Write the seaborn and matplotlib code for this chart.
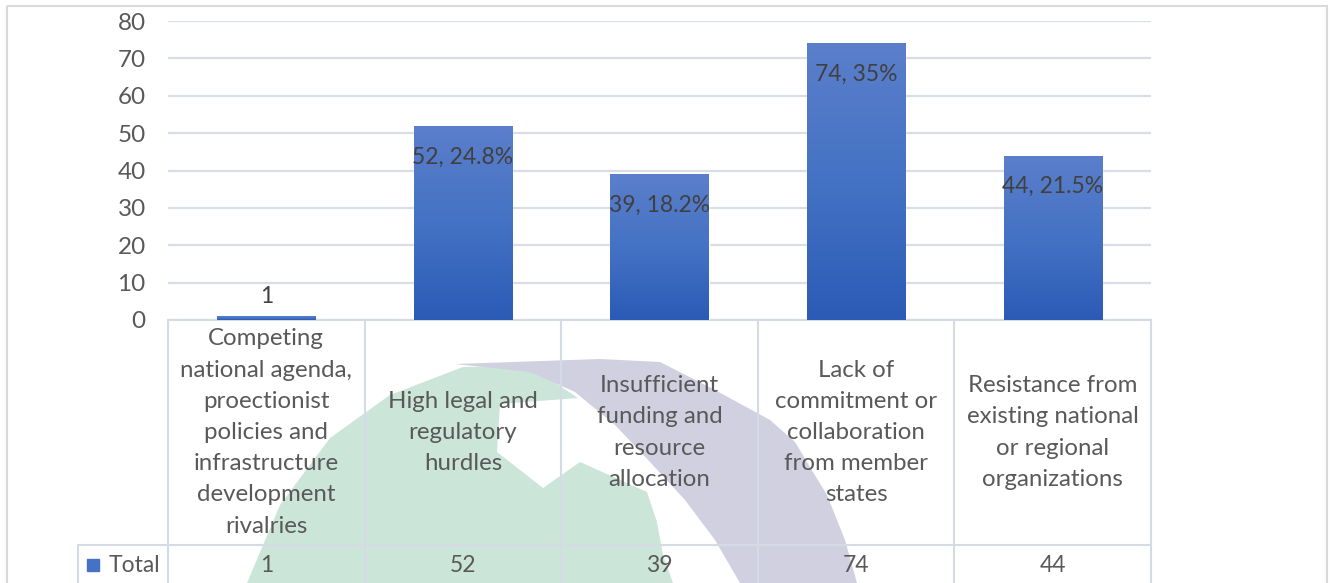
import numpy as np
import pandas as pd
import matplotlib.pyplot as plt
import seaborn as sns
from matplotlib.colors import LinearSegmentedColormap
from matplotlib.patches import Polygon, Rectangle
from matplotlib.transforms import blended_transform_factory, Affine2D

# ---- data ----
categories = [
    "Competing\nnational agenda,\nproectionist\npolicies and\ninfrastructure\ndevelopment\nrivalries",
    "High legal and\nregulatory\nhurdles",
    "Insufficient\nfunding and\nresource\nallocation",
    "Lack of\ncommitment or\ncollaboration\nfrom member\nstates",
    "Resistance from\nexisting national\nor regional\norganizations",
]
values = [1, 52, 39, 74, 44]
percents = [None, "24.8%", "18.2%", "35%", "21.5%"]
yticks = [0, 10, 20, 30, 40, 50, 60, 70, 80]
series_name = "Total"

W, H = 1333, 583
TEXT = "#595959"
LABEL = "#404040"
GRID = "#d9dee6"
LINE = "#d5dbe4"

sns.set_theme(style="white")
plt.rcParams["font.family"] = ["Lato", "DejaVu Sans"]

fig = plt.figure(figsize=(W / 100, H / 100), dpi=100)
fig.patch.set_facecolor("white")

# pixel coordinates (origin top-left) for decoration
px = Affine2D().scale(1 / W, -1 / H).translate(0, 1) + fig.transFigure

# faint logo watermark behind the data table
green = [(247, 583), (280, 505), (330, 438), (390, 395), (463, 367), (530, 366),
         (578, 398), (500, 404), (497, 452), (543, 488), (580, 462), (647, 492),
         (657, 522), (663, 555), (673, 583)]
purple = [(455, 364), (600, 359), (660, 362), (715, 390), (770, 420), (795, 442),
          (813, 472), (827, 495), (845, 540), (857, 583), (740, 583), (715, 540),
          (685, 500), (650, 462), (615, 425), (575, 392), (530, 372)]
fig.add_artist(Polygon(green, closed=True, transform=px, facecolor="#cce5d9",
                       edgecolor="none", zorder=-2))
fig.add_artist(Polygon(purple, closed=True, transform=px, facecolor="#d0d0e0",
                       edgecolor="none", zorder=-1))

# chart frame
fig.add_artist(Rectangle((7, 6), 1320, 600, transform=px, facecolor="none",
                         edgecolor="#d9d9d9", lw=1.5, zorder=-3))

ax = fig.add_axes([168 / W, (H - 320) / H, (1151 - 168) / W, 299 / H])
ax.patch.set_alpha(0)

df = pd.DataFrame({"category": categories, "value": values})
sns.barplot(data=df, x="category", y="value", color="#4472c4", width=0.5,
            saturation=1, ax=ax, zorder=2)

# Excel-like vertical gradient on bars
cmap = LinearSegmentedColormap.from_list("bar", ["#2b5bb6", "#4472c4", "#5b7fcb"])
grad = np.linspace(0, 1, 256).reshape(-1, 1)
for patch in ax.patches:
    x0, y0 = patch.get_x(), patch.get_y()
    w, h = patch.get_width(), patch.get_height()
    im = ax.imshow(grad, extent=[x0, x0 + w, y0, y0 + h], origin="lower",
                   aspect="auto", cmap=cmap, zorder=3)
    im.set_clip_path(patch)

ax.set_xlim(-0.5, len(categories) - 0.5)
ax.set_ylim(0, 80)
ax.set_yticks(yticks)
ax.set_xticks([])
ax.set_xlabel("")
ax.set_ylabel("")
ax.yaxis.grid(True, color=GRID, lw=1.6)
ax.set_axisbelow(True)
for s in ax.spines.values():
    s.set_visible(False)
ax.tick_params(axis="y", length=0, pad=16, labelsize=17.5, labelcolor=TEXT)

# data labels
for i, (v, p) in enumerate(zip(values, percents)):
    if p is None:
        ax.annotate(f"{v}", (i, v), xytext=(0, 14), textcoords="offset points",
                    ha="center", va="center", fontsize=16.5, color=LABEL, zorder=5)
    else:
        ax.annotate(f"{v}, {p}", (i, v), xytext=(0, -22.5), textcoords="offset points",
                    ha="center", va="center", fontsize=16.5, color=LABEL, zorder=5)

# data table under the axis
tr = blended_transform_factory(ax.transData, ax.transAxes)
n = len(categories)
row1 = -225 / 299
row2 = -0.92
leg_x = -0.5 - 90 / 196.6
kw = dict(transform=tr, clip_on=False, color=LINE, lw=1.5, zorder=1)
ax.plot([-0.5, n - 0.5], [0, 0], **kw)
ax.plot([leg_x, n - 0.5], [row1, row1], **kw)
for xb in np.arange(-0.5, n, 1.0):
    ax.plot([xb, xb], [0, row2], **kw)
ax.plot([leg_x, leg_x], [row1, row2], **kw)

for i, (c, v) in enumerate(zip(categories, values)):
    ax.text(i, (row1) / 2, c, transform=tr, ha="center", va="center",
            fontsize=17.3, color=TEXT, linespacing=1.6, clip_on=False)
    ax.text(i, -245 / 299, f"{v}", transform=tr, ha="center", va="center",
            fontsize=16.5, color=TEXT, clip_on=False)

ax.plot([-0.5 - 75 / 196.6], [-245 / 299], marker="s", ms=8.5, color="#4472c4",
        transform=tr, clip_on=False)
ax.text(-0.5 - 59 / 196.6, -245 / 299, series_name, transform=tr, ha="left",
        va="center", fontsize=16.5, color=TEXT, clip_on=False)

fig.savefig("out.png", dpi=100)
